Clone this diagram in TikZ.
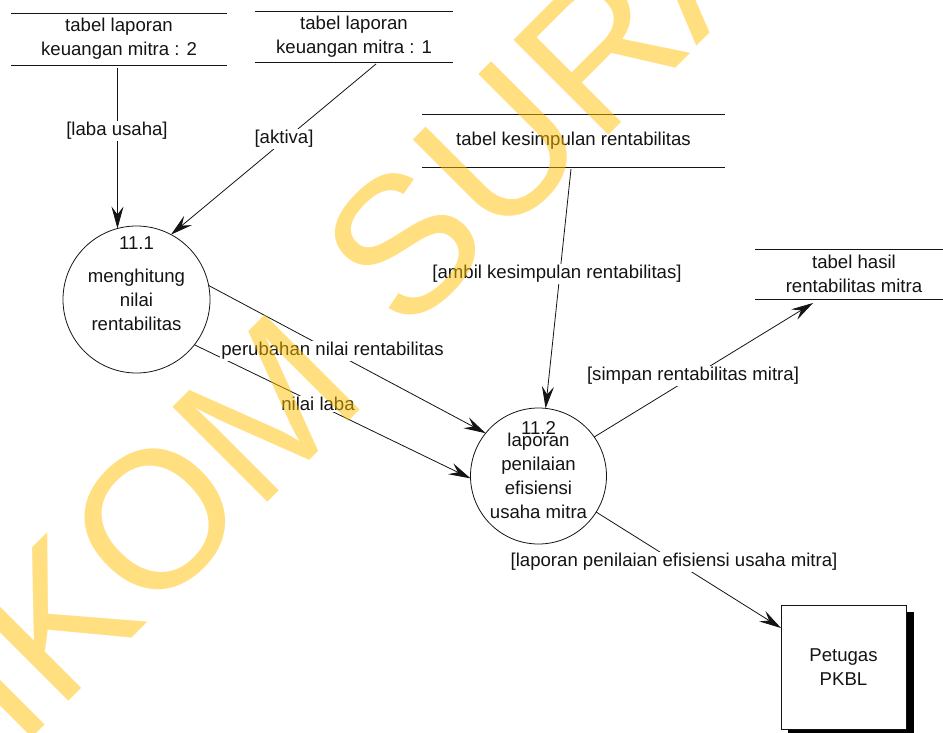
\documentclass[tikz,border=0pt]{standalone}
\usepackage{fontspec}
\setmainfont{Liberation Sans}
\usetikzlibrary{arrows.meta}
\definecolor{wm}{RGB}{255,192,0}
\definecolor{ink}{RGB}{20,20,20}
\begin{document}
\begin{tikzpicture}[x=1pt,y=-1pt,
  every node/.style={font=\fontsize{18.6}{24}\selectfont, inner sep=0pt, outer sep=0pt, text=ink},
  store/.style={align=center, minimum height=52pt},
  storeline/.style={draw=ink, line width=0.8pt},
  proc/.style={circle, draw=ink, line width=0.8pt, align=center},
  flow/.style={draw=ink, line width=0.8pt, -{Stealth[length=22pt,width=12pt,inset=8pt]}},
  lbl/.style={fill=white, inner sep=1.5pt},
  entity/.style={draw=ink, fill=white, line width=0.8pt, align=center, minimum width=125pt, minimum height=124pt},
  wmark/.style={text=wm, text opacity=0.5, font=\fontsize{195}{195}\selectfont, rotate=45, anchor=base west, inner sep=0pt}
]
\useasboundingbox (0,0) rectangle (943,732);
\clip (0,0) rectangle (943,732);
\fill[white] (0,0) rectangle (943,732);

% data stores
\node[store, minimum width=216pt] (s1) at (119,39) {tabel laporan\\keuangan mitra : 2};
\node[store, minimum width=198pt, minimum height=51pt] (s2) at (354,36.5) {tabel laporan\\keuangan mitra : 1};
\node[store, minimum width=303pt, minimum height=53pt] (s3) at (573.5,140.5) {tabel kesimpulan rentabilitas};
\node[store, minimum width=198pt, minimum height=50pt] (s4) at (854,274) {tabel hasil\\rentabilitas mitra};
\foreach \s in {s1,s2,s3,s4}{
  \draw[storeline] (\s.north west) -- (\s.north east) (\s.south west) -- (\s.south east);
}

% processes
\node[proc, minimum size=147pt] (c1) at (136.5,299.5) {menghitung\\nilai\\rentabilitas};
\node (n1) at (136.5,243) {11.1};
\node[proc, minimum size=136pt] (c2) at (538.5,476) {laporan\\penilaian\\efisiensi\\usaha mitra};
\node (n2) at (538.5,428) {11.2};

% external entity
\fill[black] (788,612) rectangle (914,740);
\node[entity] (e1) at (843.5,667) {Petugas\\PKBL};

% flows
\draw[flow, shorten <=3pt] (s1.south -| c1.105) -- (c1.105);
\draw[flow] ([shift={(22,2)}]s2.south) -- (c1.62);
\draw[flow] ([shift={(-2.5,2)}]s3.south) -- (c2.84);
\draw[flow] (c2.35) -- ([shift={(-41,4)}]s4.south);
\draw[flow] (c1.11) -- (c2.141);
\draw[flow] (c1.-38) -- (c2.182);
\draw[flow] (c2.-32) -- ([shift={(0,23)}]e1.north west);

% flow labels
\node[lbl] (l1) at (117,131) {[laba usaha]};
\node[lbl] (l2) at (284,139) {[aktiva]};
\node[lbl] (l3) at (557,274) {[ambil kesimpulan rentabilitas]};
\node[lbl] (l4) at (693,376) {[simpan rentabilitas mitra]};
\node[lbl] (l5) at (332.5,351) {perubahan nilai rentabilitas};
\node[lbl] (l6) at (318,404) {nilai laba};
\node[lbl] (l7) at (674,562) {[laporan penilaian efisiensi usaha mitra]};

% watermark
\node[wmark] (w1) at (-157,927) {STIKOM};
\node[wmark] (w2) at (405.6,337.6) {SURABAYA};
\end{tikzpicture}
\end{document}
